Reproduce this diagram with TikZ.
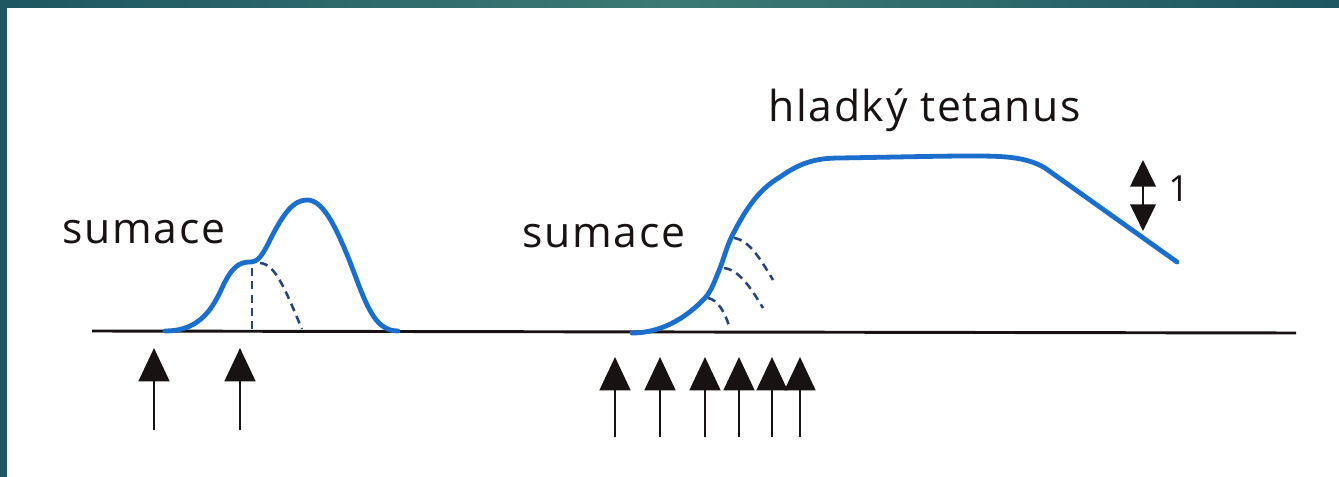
\documentclass[tikz,border=0pt]{standalone}
\usepackage{fontspec}
\setmainfont[LetterSpace=4]{Open Sans}
\usetikzlibrary{arrows.meta}
\definecolor{curveblue}{RGB}{28,110,205}
\definecolor{dashblue}{RGB}{40,68,118}
\definecolor{inkblack}{RGB}{25,18,18}
\definecolor{tealdark}{RGB}{30,86,97}
\definecolor{teallight}{RGB}{60,122,116}
\tikzset{
  curve/.style={draw=curveblue, line width=3.6pt, line cap=round, line join=round},
  dashcurve/.style={draw=dashblue, line width=1.9pt, dash pattern=on 6pt off 4pt},
  axisline/.style={draw=inkblack, line width=2.2pt},
  stim/.style={draw=inkblack, line width=2.1pt, -{Triangle[width=23pt,length=25pt]}},
  dbl/.style={draw=inkblack, line width=2.2pt, {Triangle[width=19pt,length=20pt]}-{Triangle[width=19pt,length=20pt]}},
  lbl/.style={anchor=base west, inner sep=0pt, text=inkblack, font=\fontsize{32}{38}\selectfont},
}
\begin{document}
\begin{tikzpicture}[x={(0.75pt,0)}, y={(0,-0.75pt)}]
\useasboundingbox (0,0) rectangle (1339,477);
\fill[white] (0,0) rectangle (1339,477);
% frame
\shade[left color=tealdark, right color=tealdark, middle color=teallight] (0,0) rectangle (1339,8);
\fill[tealdark] (0,0) rectangle (7,477);

% axis
\coordinate (axL) at (92,331);
\coordinate (axR) at (1296,333);
\draw[axisline] (axL) -- (axR);

% labels
\node[lbl] (sum1) at (62,244) {sumace};
\node[lbl] (sum2) at (522,248) {sumace};
\node[lbl] (tet) at (768,122) {hladký tetanus};
\node[anchor=base west, inner sep=0pt, text=inkblack, font=\fontsize{27}{32}\selectfont] (one) at (1168,202) {1};

% left summation curve
\coordinate (s1) at (250,262);
\draw[curve] (165,331) .. controls (195,331) and (210,315) .. (222,288)
  .. controls (232,266) and (240,262) .. (s1)
  .. controls (258,262) and (262,256) .. (270,240)
  .. controls (284,212) and (294,200) .. (307,200)
  .. controls (322,200) and (334,222) .. (350,262)
  .. controls (366,304) and (374,331) .. (398,331);
\draw[dashcurve] (252,268) -- (252,331);
\draw[dashcurve] (260,263) .. controls (276,264) and (286,292) .. (302,329);

% right curve (tetanus)
\coordinate (r1) at (705,298);
\coordinate (r2) at (720,268);
\coordinate (r3) at (731,238);
\draw[curve] (632,333) .. controls (665,333) and (690,314) .. (r1)
  .. controls (712,290) and (715,280) .. (r2)
  .. controls (724,258) and (726,249) .. (r3)
  .. controls (745,210) and (758,190) .. (780,177)
  .. controls (800,163) and (815,158) .. (840,158)
  .. controls (900,157) and (940,156) .. (970,156)
  .. controls (1000,156) and (1025,156) .. (1045,168)
  -- (1177,262);
\draw[dashcurve] (708,298) .. controls (718,300) and (725,312) .. (730,329);
\draw[dashcurve] (724,268) .. controls (740,270) and (752,290) .. (763,308);
\draw[dashcurve] (734,238) .. controls (750,240) and (762,262) .. (773,280);

% amplitude arrow
\coordinate (dtop) at (1143,160);
\coordinate (dbot) at (1143,231);
\draw[dbl] (dtop) -- (dbot);

% stimulus arrows
\foreach \i/\x in {1/154,2/240} {
  \coordinate (lt\i) at (\x,430);
  \coordinate (lh\i) at (\x,348);
  \draw[stim] (lt\i) -- (lh\i);
}
\foreach \i/\x in {1/615,2/660,3/705,4/739,5/772,6/800} {
  \coordinate (rt\i) at (\x,437);
  \coordinate (rh\i) at (\x,357);
  \draw[stim] (rt\i) -- (rh\i);
}
\end{tikzpicture}
\end{document}
